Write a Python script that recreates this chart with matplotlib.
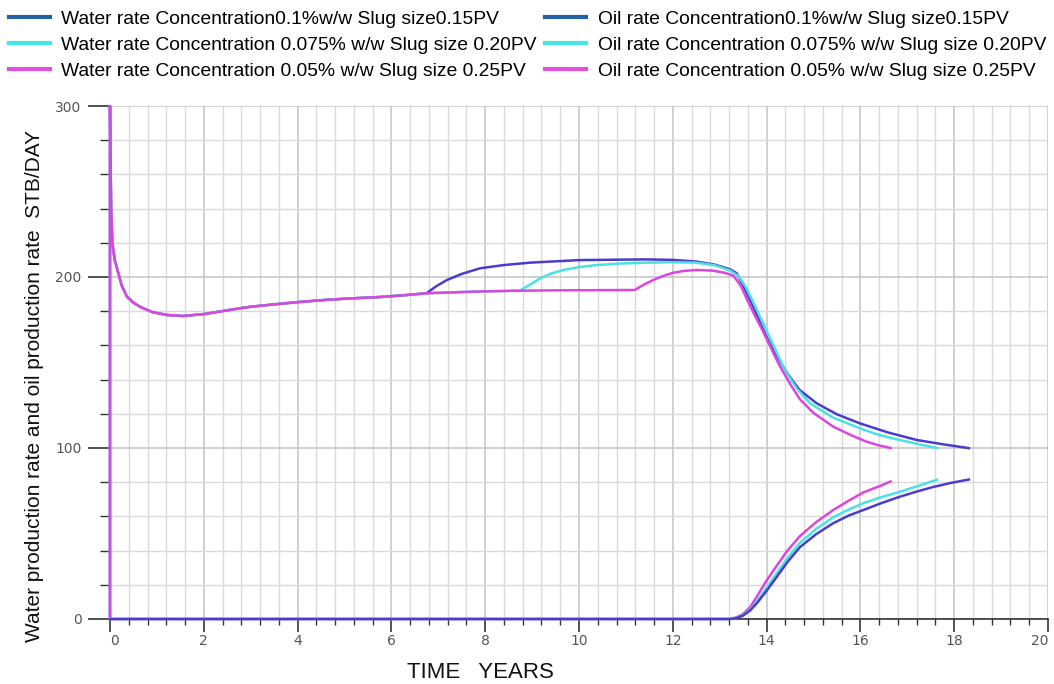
import matplotlib
matplotlib.use("Agg")
import matplotlib.pyplot as plt
from matplotlib.lines import Line2D
from matplotlib.ticker import MultipleLocator

plt.rcParams['font.family'] = ['Liberation Sans', 'DejaVu Sans']

# ---------------- data ----------------
# Polymer slug cases: concentration / slug size
case_labels = ["0.1%w/w Slug size0.15PV",
               " 0.075% w/w Slug size 0.20PV",
               " 0.05% w/w Slug size 0.25PV"]

# Upper curves (production rate, STB/DAY)
t_upper_1 = [0, 0, 0.01, 0.025, 0.05, 0.1, 0.14, 0.25, 0.36, 0.5, 0.64, 0.9, 1.21, 1.56, 2.0,
             2.77, 3.0, 3.5, 4.0, 4.5, 5.0, 5.76, 6.3, 6.75, 6.95, 7.18, 7.5, 7.89, 8.4, 8.96,
             10.02, 11.44, 12.0, 12.51, 12.9, 13.22, 13.36, 13.5, 13.65, 13.82, 14.0, 14.15,
             14.29, 14.43, 14.7, 15.07, 15.5, 15.99, 16.6, 17.2, 17.8, 18.34]
q_upper_1 = [0, 300, 270, 240, 220, 210, 206, 195, 188.5, 185, 182.6, 179.5, 177.8, 177.2, 178.3,
             181.7, 182.6, 184, 185.3, 186.4, 187.3, 188.3, 189.4, 190.5, 194.5, 198.2, 201.8,
             205.1, 207, 208.4, 209.9, 210.3, 210.0, 209.0, 207.2, 204.5, 202.2, 195, 186.5,
             176, 165, 157, 150.5, 144, 134, 126.1, 119.7, 114.4, 109, 104.7, 102, 99.8]

t_upper_2 = [0, 0, 0.01, 0.025, 0.05, 0.1, 0.14, 0.25, 0.36, 0.5, 0.64, 0.9, 1.21, 1.56, 2.0,
             2.77, 3.0, 3.5, 4.0, 4.5, 5.0, 5.76, 6.3, 6.75, 7.5, 8.0, 8.74, 8.95, 9.17, 9.4,
             9.67, 10.0, 10.38, 10.9, 11.44, 12.0, 12.51, 12.9, 13.22, 13.4, 13.55, 13.72, 13.9,
             14.07, 14.23, 14.4, 14.65, 14.93, 15.4, 15.99, 16.4, 16.84, 17.25, 17.66]
q_upper_2 = [0, 300, 270, 240, 220, 210, 206, 195, 188.5, 185, 182.6, 179.5, 177.8, 177.2, 178.3,
             181.7, 182.6, 184, 185.3, 186.4, 187.3, 188.3, 189.4, 190.5, 191.2, 191.6, 192.0,
             195.5, 199.2, 202, 204.1, 205.8, 207.0, 207.9, 208.4, 208.6, 208.4, 206.8, 203.8,
             200.5, 194.5, 185, 174.5, 164.5, 155, 145, 134.5, 126.1, 118, 111.5, 107.6, 104.7,
             102.2, 99.8]

t_upper_3 = [0, 0, 0.01, 0.025, 0.05, 0.1, 0.14, 0.25, 0.36, 0.5, 0.64, 0.9, 1.21, 1.56, 2.0,
             2.77, 3.0, 3.5, 4.0, 4.5, 5.0, 5.76, 6.3, 6.75, 7.5, 8.0, 8.74, 9.5, 10.4, 11.19,
             11.38, 11.58, 11.8, 12.01, 12.25, 12.51, 12.86, 13.1, 13.29, 13.45, 13.58, 13.75,
             13.9, 14.05, 14.18, 14.29, 14.5, 14.71, 15.0, 15.42, 15.8, 16.13, 16.4, 16.67]
q_upper_3 = [0, 300, 270, 240, 220, 210, 206, 195, 188.5, 185, 182.6, 179.5, 177.8, 177.2, 178.3,
             181.7, 182.6, 184, 185.3, 186.4, 187.3, 188.3, 189.4, 190.5, 191.2, 191.6, 192.0,
             192.2, 192.3, 192.4, 195.5, 198.2, 200.7, 202.5, 203.6, 204.1, 203.7, 202.5, 200.8,
             195, 187, 177.5, 169.5, 161, 153.5, 147.5, 137.5, 128.5, 120.5, 112.5, 107.5,
             103.7, 101.5, 99.8]

# Lower curves (production rate, STB/DAY)
t_lower_1 = [0, 13.22, 13.36, 13.5, 13.65, 13.8, 14.0, 14.2, 14.45, 14.71, 15.05, 15.42, 15.75,
             16.06, 16.45, 16.84, 17.2, 17.55, 17.95, 18.34]
q_lower_1 = [0, 0, 0.5, 2, 5, 9.5, 16.5, 24, 33.5, 42, 49.5, 56, 60.5, 63.7, 67.8, 71.5, 74.5,
             77.2, 79.7, 81.7]

t_lower_2 = [0, 13.22, 13.36, 13.5, 13.65, 13.8, 14.0, 14.2, 14.45, 14.71, 15.05, 15.42, 15.75,
             16.06, 16.45, 16.84, 17.25, 17.66]
q_lower_2 = [0, 0, 0.6, 2.3, 5.6, 10.5, 18.3, 26, 35.8, 44.5, 52.5, 59.5, 64, 67.7, 71.3, 74.4,
             78, 81.7]

t_lower_3 = [0, 13.22, 13.36, 13.5, 13.65, 13.79, 13.9, 14.0, 14.2, 14.43, 14.71, 15.05, 15.42,
             15.75, 16.06, 16.4, 16.67]
q_lower_3 = [0, 0, 1, 3, 7, 13, 18, 22.5, 30.5, 39.5, 48.5, 56.5, 63.7, 69.2, 74.0, 77.6, 80.7]

x_ticks = [0, 2, 4, 6, 8, 10, 12, 14, 16, 18, 20]
y_ticks = [0, 100, 200, 300]

# ---------------- styling ----------------
line_colors = ['#4a3ccc', '#48e2e2', '#de44de']
legend_colors = ['#2462a8', '#44e6e6', '#e050d8']

W, H = 1054, 684
fig = plt.figure(figsize=(W / 100, H / 100), dpi=100)
ax = fig.add_axes([110 / W, 1 - 619 / H, (1048 - 110) / W, (619 - 106) / H])

uppers = [(t_upper_1, q_upper_1), (t_upper_2, q_upper_2), (t_upper_3, q_upper_3)]
lowers = [(t_lower_1, q_lower_1), (t_lower_2, q_lower_2), (t_lower_3, q_lower_3)]

for i, (t, q) in enumerate(uppers):
    ax.plot(t, q, color=line_colors[i], lw=1.8, zorder=4 + i, clip_on=False,
            solid_capstyle='butt', solid_joinstyle='round')
for i, (t, q) in enumerate(lowers):
    ax.plot(t, q, color=line_colors[i], lw=1.8, zorder=9 - i, clip_on=False,
            solid_capstyle='butt', solid_joinstyle='round')

ax.set_xlim(0, 20)
ax.set_ylim(0, 300)
ax.set_xticks(x_ticks)
ax.set_yticks(y_ticks)
ax.xaxis.set_minor_locator(MultipleLocator(0.4))
ax.yaxis.set_minor_locator(MultipleLocator(20))

ax.grid(which='minor', color='#dadada', lw=1.0, zorder=0)
ax.grid(which='major', color='#c4c4c4', lw=1.1, zorder=0)
ax.set_axisbelow(True)

for s in ['top', 'right']:
    ax.spines[s].set_visible(False)
for s in ['left', 'bottom']:
    ax.spines[s].set_color('#333333')
    ax.spines[s].set_linewidth(1.2)
    ax.spines[s].set_zorder(3)

ax.tick_params(axis='x', which='major', length=9, width=1.2, color='#333333',
               labelsize=10, labelcolor='#555555', pad=2)
ax.tick_params(axis='x', which='minor', length=4.5, width=1.0, color='#333333')
ax.tick_params(axis='y', which='major', length=15.5, width=1.2, color='#333333',
               labelsize=10, labelcolor='#555555', pad=5)
ax.tick_params(axis='y', which='minor', length=7.5, width=1.0, color='#333333')
for lab in ax.get_xticklabels() + ax.get_yticklabels():
    lab.set_family('DejaVu Sans')
xlabels = ax.get_xticklabels()
xlabels[0].set_horizontalalignment('left')
xlabels[-1].set_horizontalalignment('right')

fig.text(35 / W, 1 - 386 / H, "Water production rate and oil production rate  STB/DAY",
         rotation=90, ha='center', va='center', fontsize=15, color='#111111')
fig.text(480 / W, 1 - 672 / H, "TIME   YEARS", ha='center', va='center',
         fontsize=16, color='#111111')

# legend: water rate in the first column, oil rate in the second
handles = [Line2D([], [], color=c, lw=3) for c in legend_colors] * 2
labels = ["Water rate Concentration" + c for c in case_labels] + \
         ["Oil rate Concentration" + c for c in case_labels]
fig.legend(handles, labels, ncol=2, loc='upper left', bbox_to_anchor=(9 / W, 1 - 10 / H),
           frameon=False, fontsize=13.9, handlelength=2.1, handletextpad=0.6,
           columnspacing=0.45, labelspacing=0.45, borderpad=0, borderaxespad=0)

fig.savefig("out.png", dpi=100)
